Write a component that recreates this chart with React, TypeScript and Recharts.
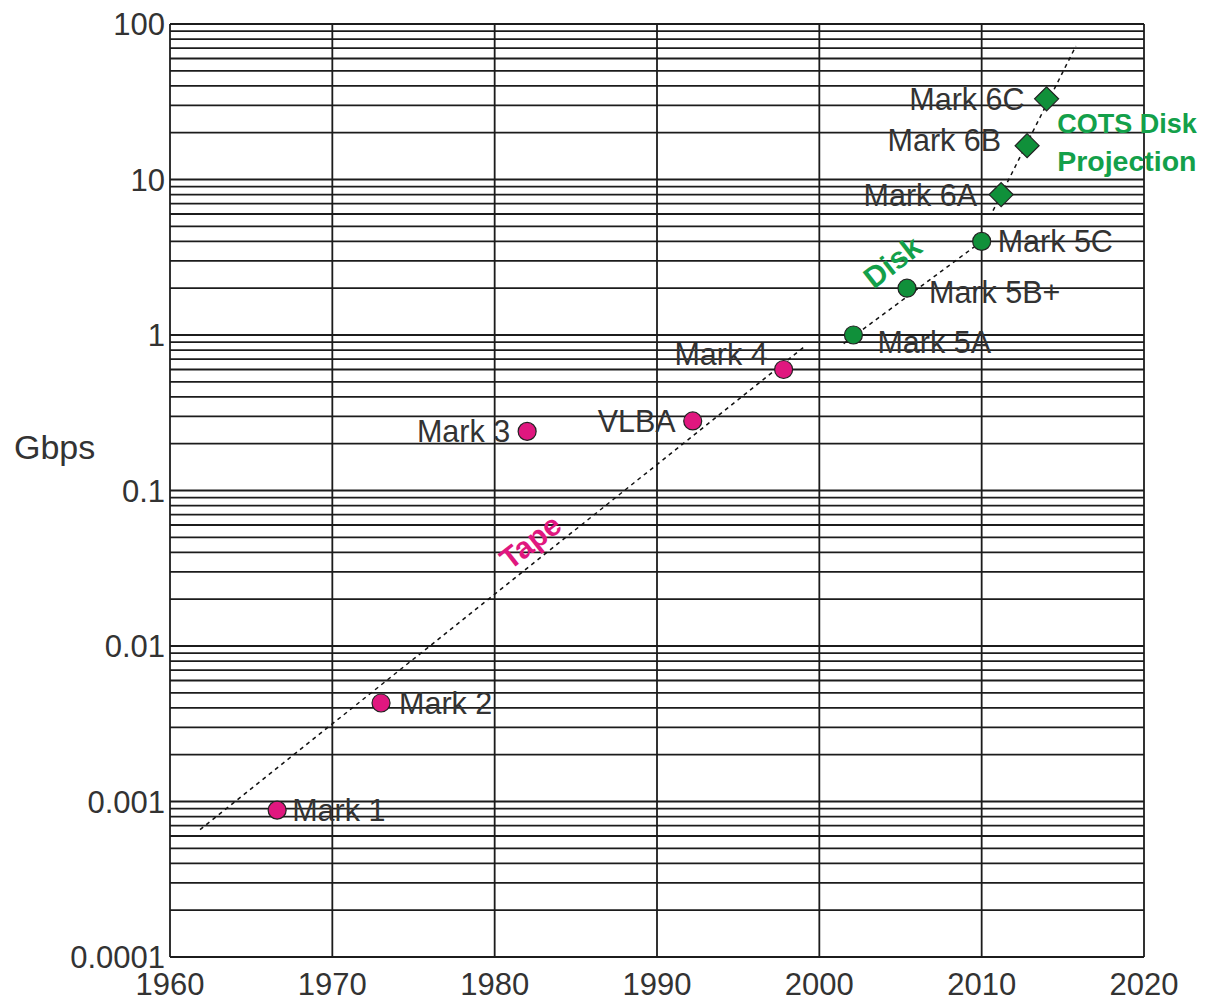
import React from 'react';
import { ComposedChart, Scatter, XAxis, YAxis, ReferenceLine, ReferenceDot } from 'recharts';

// ---- data ----
const tapeSystems = [
  { name: 'Mark 1', year: 1966.6, gbps: 0.00088 },
  { name: 'Mark 2', year: 1973.0, gbps: 0.0043 },
  { name: 'Mark 3', year: 1982.0, gbps: 0.24 },
  { name: 'VLBA', year: 1992.2, gbps: 0.28 },
  { name: 'Mark 4', year: 1997.8, gbps: 0.6 },
];
const diskSystems = [
  { name: 'Mark 5A', year: 2002.1, gbps: 1.0 },
  { name: 'Mark 5B+', year: 2005.4, gbps: 2.0 },
  { name: 'Mark 5C', year: 2010.0, gbps: 4.0 },
];
const cotsSystems = [
  { name: 'Mark 6A', year: 2011.2, gbps: 8.0 },
  { name: 'Mark 6B', year: 2012.8, gbps: 16.5 },
  { name: 'Mark 6C', year: 2014.0, gbps: 33 },
];
const tapeTrend = [
  { year: 1961.85, gbps: 0.00066 },
  { year: 1999.2, gbps: 0.86 },
];
const diskTrend = [
  { year: 2001.5, gbps: 0.88 },
  { year: 2010.0, gbps: 4.0 },
];
const cotsTrend = [
  { year: 2010.7, gbps: 6.3 },
  { year: 2015.8, gbps: 72 },
];
const annotations = [
  { text: 'Tape', year: 1982.2, gbps: 0.047 },
  { text: 'Disk', year: 2004.5, gbps: 2.95 },
  { text: 'COTS Disk', year: 2014.65, gbps: 22.8 },
  { text: 'Projection', year: 2014.65, gbps: 13.2 },
];
const xTicks = [1960, 1970, 1980, 1990, 2000, 2010, 2020];
const yTicks = [0.0001, 0.001, 0.01, 0.1, 1, 10, 100];
const yTickLabels = ['0.0001', '0.001', '0.01', '0.1', '1', '10', '100'];
const decades = [0.0001, 0.001, 0.01, 0.1, 1, 10];
const multipliers = [1, 2, 3, 4, 5, 6, 7, 8, 9];

// ---- styles ----
const MAGENTA = '#e0177f';
const GREEN_MARK = '#10903a';
const GREEN_TEXT = '#13a04a';
const TEXT = '#333333';
const FONT = '"Liberation Sans", Arial, sans-serif';
const GRID = '#1c1c1c';

const labelPlacement: Record<string, { dx: number; dy: number; anchor: 'start' | 'end' }> = {
  'Mark 1': { dx: 15, dy: 0, anchor: 'start' },
  'Mark 2': { dx: 18, dy: 0, anchor: 'start' },
  'Mark 3': { dx: -17, dy: 0, anchor: 'end' },
  VLBA: { dx: -17, dy: 0, anchor: 'end' },
  'Mark 4': { dx: -16, dy: -15, anchor: 'end' },
  'Mark 5A': { dx: 24, dy: 7, anchor: 'start' },
  'Mark 5B+': { dx: 22, dy: 4, anchor: 'start' },
  'Mark 5C': { dx: 16, dy: 0, anchor: 'start' },
  'Mark 6A': { dx: -24, dy: 0, anchor: 'end' },
  'Mark 6B': { dx: -26, dy: -6, anchor: 'end' },
  'Mark 6C': { dx: -22, dy: 0, anchor: 'end' },
};

const annotationStyle: Record<string, { color: string; rotate: number; anchor: 'start' | 'middle'; size: number }> = {
  Tape: { color: MAGENTA, rotate: -38, anchor: 'middle', size: 30 },
  Disk: { color: GREEN_TEXT, rotate: -38, anchor: 'middle', size: 30 },
  'COTS Disk': { color: GREEN_TEXT, rotate: 0, anchor: 'start', size: 27 },
  Projection: { color: GREEN_TEXT, rotate: 0, anchor: 'start', size: 28.5 },
};

const gridValues: number[] = [];
decades.forEach((d) => multipliers.forEach((m) => gridValues.push(+(d * m).toPrecision(3))));
gridValues.push(100);

const Label = ({ cx, cy, name }: any) => {
  const p = labelPlacement[name];
  return (
    <text
      x={cx + p.dx}
      y={cy + p.dy}
      textAnchor={p.anchor}
      dominantBaseline="central"
      fontFamily={FONT}
      fontSize={30.5}
      fill={TEXT}
    >
      {name}
    </text>
  );
};

const CircleShape = (color: string) => (props: any) => {
  const { cx, cy, payload } = props;
  return (
    <g>
      <circle cx={cx} cy={cy} r={9} fill={color} stroke="#222" strokeWidth={1.2} />
      <Label cx={cx} cy={cy} name={payload.name} />
    </g>
  );
};

const DiamondShape = (props: any) => {
  const { cx, cy, payload } = props;
  const s = 12;
  return (
    <g>
      <polygon
        points={`${cx},${cy - s} ${cx + s},${cy} ${cx},${cy + s} ${cx - s},${cy}`}
        fill={GREEN_MARK}
        stroke="#222"
        strokeWidth={1.2}
      />
      <Label cx={cx} cy={cy} name={payload.name} />
    </g>
  );
};

const annotationContent = (text: string) => (props: any) => {
  const vb = props.viewBox || {};
  const cx = vb.x + (vb.width || 0) / 2;
  const cy = vb.y + (vb.height || 0) / 2;
  const st = annotationStyle[text];
  return (
    <text
      x={cx}
      y={cy}
      textAnchor={st.anchor}
      dominantBaseline="central"
      fontFamily={FONT}
      fontWeight="bold"
      fontSize={st.size}
      fill={st.color}
      transform={st.rotate ? `rotate(${st.rotate} ${cx} ${cy})` : undefined}
    >
      {text}
    </text>
  );
};

const NoShape = () => null;
const NoDot = () => <g />;

export default function App() {
  return (
    <div style={{ position: 'relative', width: 1199, height: 1006, marginTop: -8 }}>
      <style>{'html,body{overflow:hidden}'}</style>
      <ComposedChart
        width={1199}
        height={1006}
        margin={{ top: 24, right: 63, left: 0, bottom: 8 }}
        style={{ overflow: 'visible' }}
      >
        <XAxis
          type="number"
          dataKey="year"
          domain={[1960, 2020]}
          ticks={xTicks}
          allowDataOverflow
          axisLine={false}
          tickLine={false}
          tickSize={0}
          tickMargin={16}
          height={41}
          tick={{ fontFamily: FONT, fontSize: 31, fill: TEXT }}
        />
        <YAxis
          type="number"
          dataKey="gbps"
          scale="log"
          domain={[0.0001, 100]}
          ticks={yTicks}
          allowDataOverflow
          tickFormatter={(v: number) => yTickLabels[yTicks.indexOf(v)] ?? String(v)}
          axisLine={false}
          tickLine={false}
          tickSize={5}
          tickMargin={0}
          width={162}
          tick={{ fontFamily: FONT, fontSize: 31, fill: TEXT }}
        />
        {gridValues.map((v) => (
          <ReferenceLine key={`h${v}`} y={v} stroke={GRID} strokeWidth={1.8} ifOverflow="visible" />
        ))}
        {xTicks.map((v) => (
          <ReferenceLine key={`v${v}`} x={v} stroke={GRID} strokeWidth={1.8} ifOverflow="visible" />
        ))}
        <Scatter
          data={tapeTrend}
          shape={NoShape}
          line={{ stroke: '#111', strokeWidth: 1.5, strokeDasharray: '4 4' }}
          isAnimationActive={false}
        />
        <Scatter
          data={diskTrend}
          shape={NoShape}
          line={{ stroke: '#111', strokeWidth: 1.5, strokeDasharray: '4 4' }}
          isAnimationActive={false}
        />
        <Scatter
          data={cotsTrend}
          shape={NoShape}
          line={{ stroke: '#111', strokeWidth: 1.5, strokeDasharray: '4 4' }}
          isAnimationActive={false}
        />
        <Scatter data={tapeSystems} shape={CircleShape(MAGENTA)} isAnimationActive={false} />
        <Scatter data={diskSystems} shape={CircleShape(GREEN_MARK)} isAnimationActive={false} />
        <Scatter data={cotsSystems} shape={DiamondShape} isAnimationActive={false} />
        {annotations.map((a) => (
          <ReferenceDot
            key={a.text}
            x={a.year}
            y={a.gbps}
            r={0}
            ifOverflow="visible"
            shape={NoDot}
            label={{ content: annotationContent(a.text) }}
          />
        ))}
      </ComposedChart>
      <div
        style={{
          position: 'absolute',
          left: 6,
          top: 428,
          fontFamily: FONT,
          fontSize: 34,
          color: TEXT,
        }}
      >
        Gbps
      </div>
    </div>
  );
}
